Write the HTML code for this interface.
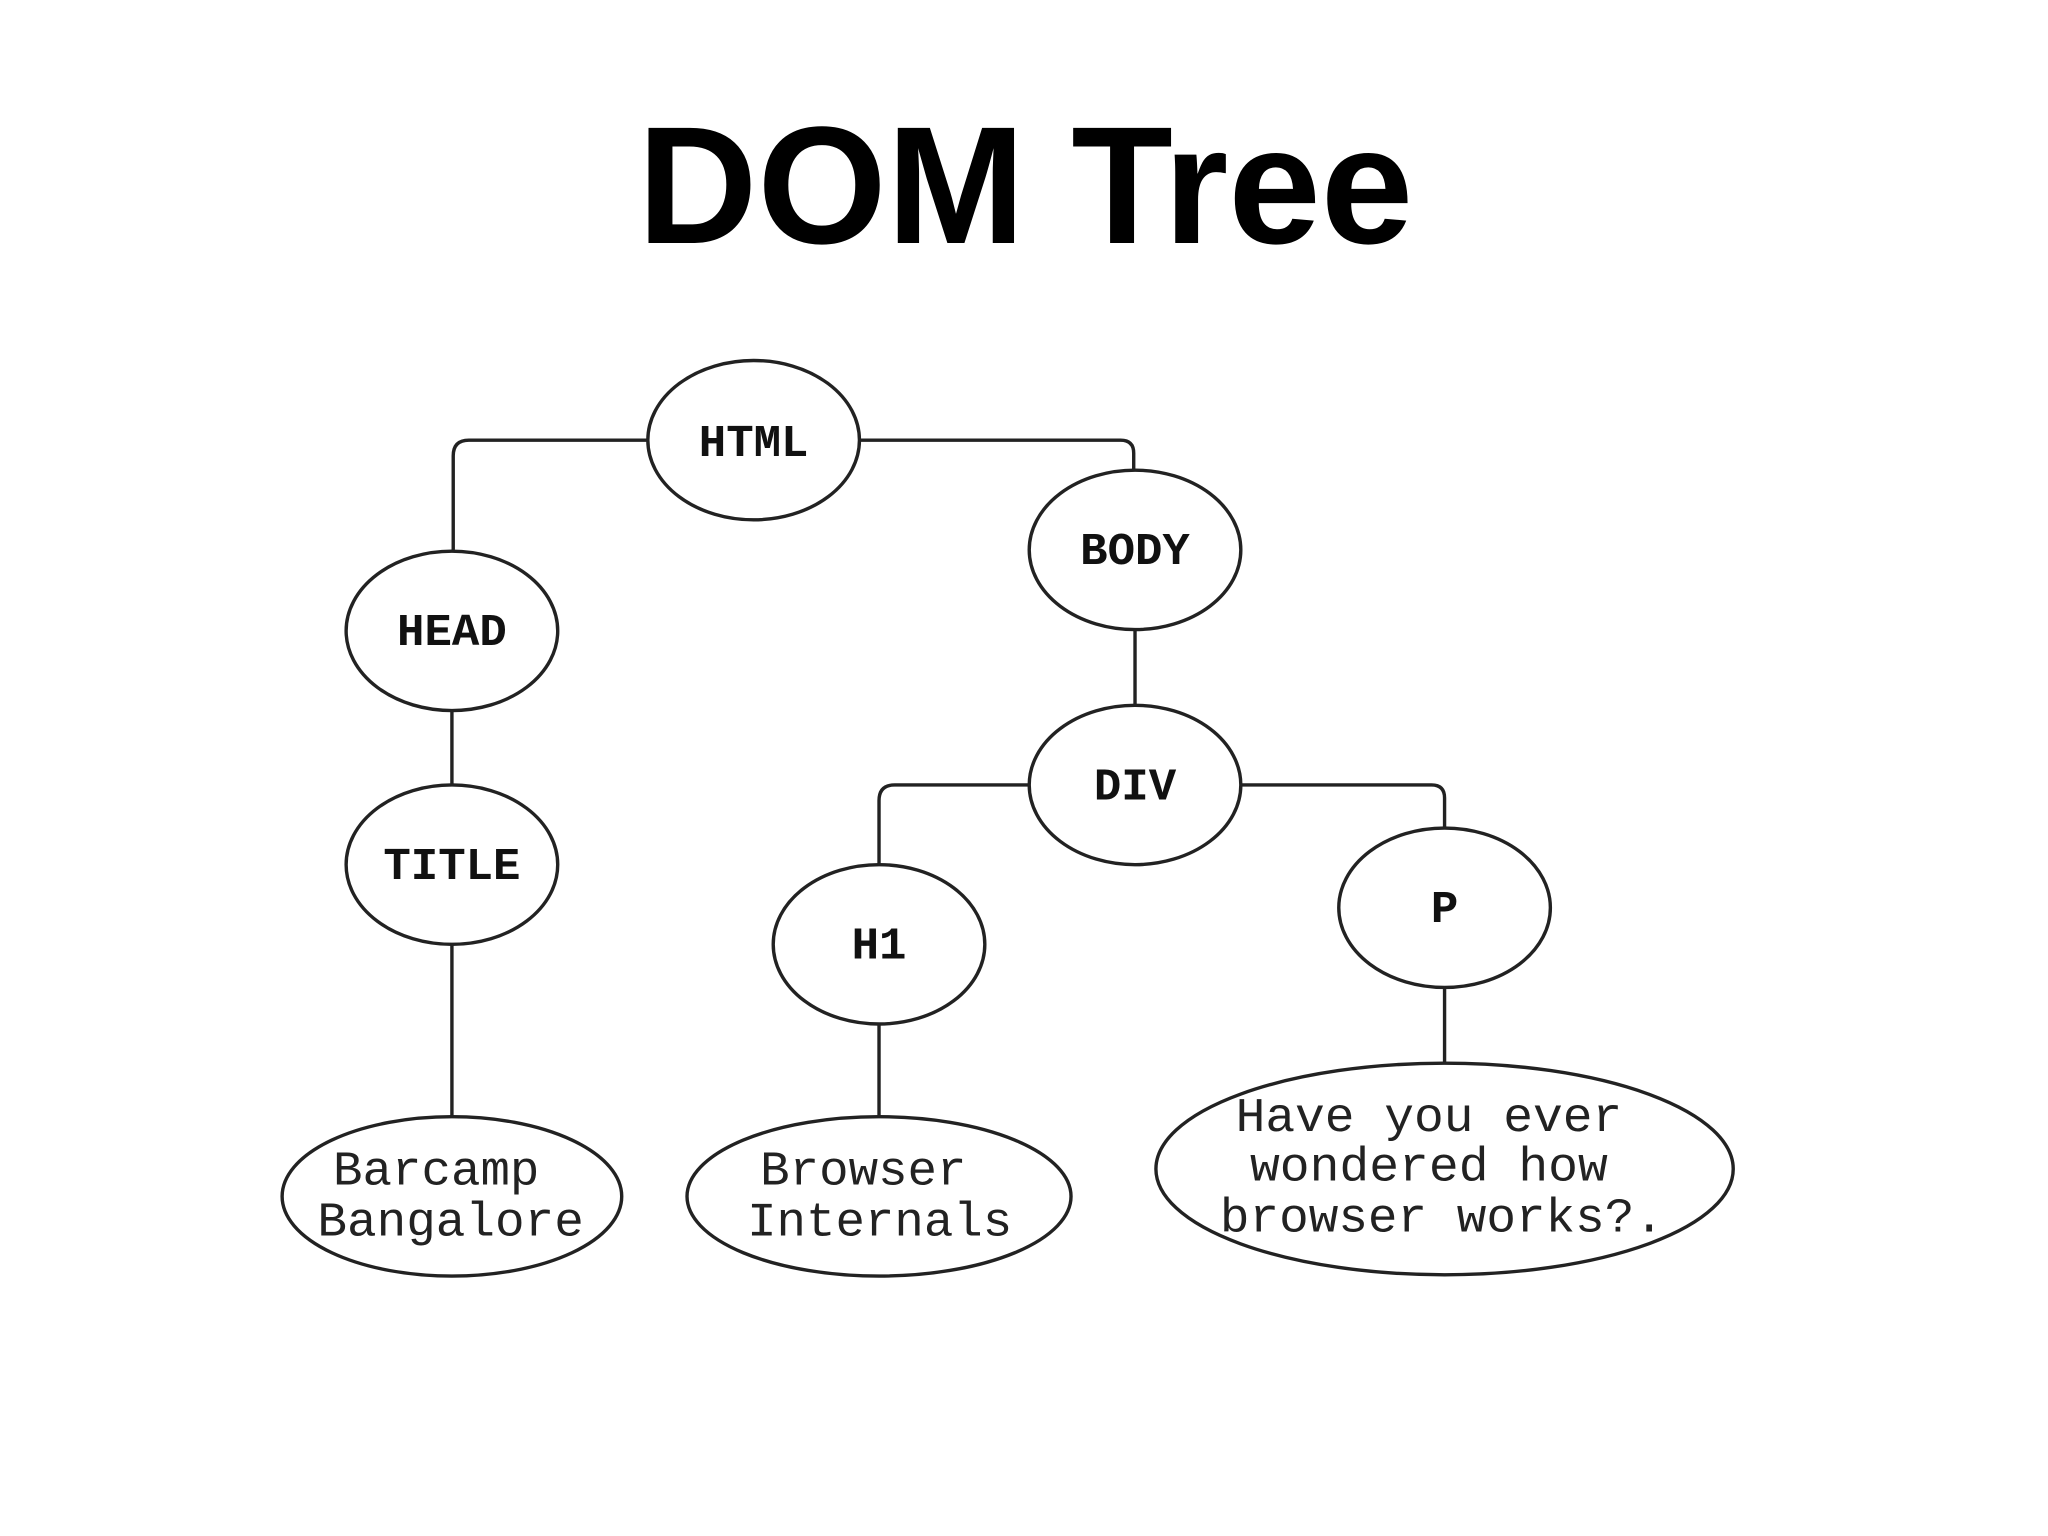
<!DOCTYPE html>
<html><head><meta charset="utf-8"><style>
html,body{margin:0;padding:0;background:#fff;width:2048px;height:1536px;overflow:hidden}
svg{display:block}
.n{font-family:"Liberation Mono",monospace;font-weight:bold;font-size:35px;fill:#111}
.t{font-family:"Liberation Mono",monospace;font-size:37px;fill:#222}
</style></head><body>
<svg width="2048" height="1536" viewBox="0 0 1568 1176" preserveAspectRatio="none">
<text x="785" y="186" text-anchor="middle" font-family="'Liberation Sans',sans-serif" font-weight="bold" font-size="128" textLength="594" lengthAdjust="spacingAndGlyphs" fill="#000">DOM Tree</text>
<g fill="none" stroke="#222" stroke-width="2.6">
<path d="M496 337 H359 Q347 337 347 349 V421"/>
<path d="M658 337 H858 Q868 337 868 347 V360"/>
<path d="M346 544 V601"/>
<path d="M346 723 V855"/>
<path d="M869 482 V540"/>
<path d="M788 601 H685 Q673 601 673 613 V662"/>
<path d="M950 601 H1096 Q1106 601 1106 611 V634"/>
<path d="M673 784 V855"/>
<path d="M1106 756 V814"/>
<ellipse cx="577" cy="337" rx="81" ry="61"/>
<ellipse cx="869" cy="421" rx="81" ry="61"/>
<ellipse cx="346" cy="483" rx="81" ry="61"/>
<ellipse cx="346" cy="662" rx="81" ry="61"/>
<ellipse cx="869" cy="601" rx="81" ry="61"/>
<ellipse cx="673" cy="723" rx="81" ry="61"/>
<ellipse cx="1106" cy="695" rx="81" ry="61"/>
<ellipse cx="346" cy="916" rx="130" ry="61"/>
<ellipse cx="673" cy="916" rx="147" ry="61"/>
<ellipse cx="1106" cy="895" rx="221" ry="81"/>
</g>
<g text-anchor="middle">
<text class="n" x="577" y="349">HTML</text>
<text class="n" x="869" y="432">BODY</text>
<text class="n" x="346" y="494">HEAD</text>
<text class="n" x="346" y="673">TITLE</text>
<text class="n" x="869" y="612">DIV</text>
<text class="n" x="673" y="734">H1</text>
<text class="n" x="1106" y="706">P</text>
</g>
<g>
<text class="t" x="255" y="907" textLength="158" lengthAdjust="spacingAndGlyphs">Barcamp</text>
<text class="t" x="243" y="946" textLength="204" lengthAdjust="spacingAndGlyphs">Bangalore</text>
<text class="t" x="582" y="907" textLength="158" lengthAdjust="spacingAndGlyphs">Browser</text>
<text class="t" x="572" y="946" textLength="203" lengthAdjust="spacingAndGlyphs">Internals</text>
<text class="t" x="946" y="866" textLength="296" lengthAdjust="spacingAndGlyphs">Have you ever</text>
<text class="t" x="957" y="904" textLength="274" lengthAdjust="spacingAndGlyphs">wondered how</text>
<text class="t" x="934" y="943" textLength="340" lengthAdjust="spacingAndGlyphs">browser works?.</text>
</g>
</svg>
</body></html>
